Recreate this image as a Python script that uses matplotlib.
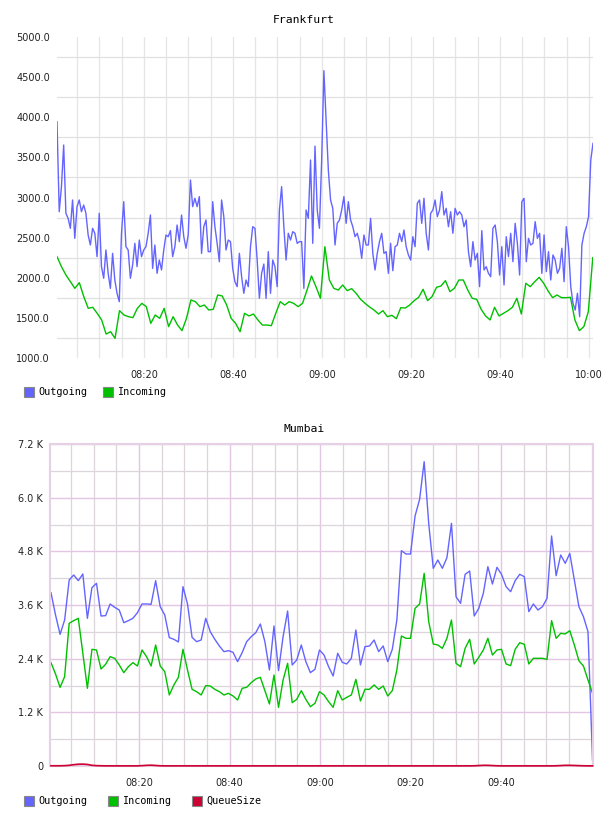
import matplotlib
matplotlib.use('Agg')
import matplotlib.pyplot as plt
import matplotlib.dates as mdates
from matplotlib.patches import Rectangle
import pandas as pd

# Frankfurt: outgoing every 30 s, incoming every minute
fra_out = [3945, 2823, 3135, 3654, 2803, 2740, 2616, 2969, 2491, 2886,
           2969, 2823, 2906, 2803, 2533, 2408, 2616, 2554, 2263, 2803,
           2138, 1993, 2346, 2055, 1868, 2304, 1972, 1806, 1702, 2554,
           2948, 2387, 2346, 1993, 2159, 2429, 2138, 2470, 2263, 2346,
           2387, 2554, 2782, 2117, 2408, 2055, 2221, 2097, 2346, 2533,
           2512, 2587, 2263, 2387, 2657, 2450, 2782, 2512, 2367, 2533,
           3218, 2886, 2990, 2886, 3011, 2304, 2636, 2720, 2325, 2325,
           2948, 2636, 2429, 2200, 2969, 2761, 2346, 2470, 2450, 2117,
           1951, 1889, 2304, 2014, 1806, 1972, 1889, 2387, 2636, 2616,
           2221, 1744, 2055, 2171, 1744, 2325, 1806, 2221, 2138, 1889,
           2844, 3135, 2636, 2221, 2554, 2470, 2574, 2554, 2429, 2450,
           2450, 1868, 2844, 2740, 3467, 2429, 3640, 2844, 2616, 3467,
           4580, 3966, 3342, 2969, 2865, 2408, 2678, 2720, 2844, 3011,
           2678, 2948, 2720, 2636, 2512, 2554, 2450, 2242, 2533, 2408,
           2408, 2740, 2304, 2097, 2304, 2450, 2554, 2304, 2325, 2055,
           2429, 2088, 2387, 2408, 2554, 2450, 2595, 2387, 2284, 2221,
           2512, 2387, 2927, 2969, 2678, 2990, 2554, 2346, 2803, 2844,
           2969, 2761, 2844, 3073, 2782, 2865, 2636, 2823, 2554, 2865,
           2782, 2823, 2782, 2636, 2720, 2325, 2138, 2450, 2221, 2304,
           1889, 2587, 2097, 2138, 2055, 2014, 2616, 2657, 2450, 2034,
           2387, 1910, 2512, 2263, 2554, 2200, 2678, 2429, 2034, 2948,
           2990, 2200, 2491, 2408, 2429, 2699, 2491, 2554, 2055, 2533,
           2076, 2325, 1972, 2284, 2221, 2055, 2117, 2367, 1951, 2636,
           2387, 1889, 1681, 1598, 1806, 1515, 2408, 2554, 2636, 2761,
           3467, 3675]

fra_in = [2263, 2138, 2034, 1951, 1868, 1939, 1764, 1619, 1632, 1557,
          1474, 1299, 1328, 1245, 1590, 1536, 1515, 1503, 1619, 1681,
          1640, 1432, 1536, 1494, 1619, 1391, 1515, 1411, 1341, 1494,
          1723, 1702, 1640, 1660, 1598, 1607, 1785, 1773, 1660, 1494,
          1432, 1328, 1557, 1524, 1548, 1474, 1411, 1411, 1403, 1557,
          1702, 1660, 1702, 1681, 1640, 1681, 1847, 2022, 1889, 1744,
          2387, 1972, 1868, 1847, 1910, 1839, 1864, 1806, 1731, 1681,
          1636, 1598, 1548, 1590, 1515, 1532, 1490, 1627, 1623, 1660,
          1715, 1756, 1856, 1715, 1765, 1881, 1897, 1964, 1827, 1868,
          1972, 1972, 1847, 1744, 1731, 1607, 1524, 1474, 1632, 1524,
          1557, 1590, 1632, 1744, 1548, 1931, 1889, 1951, 2005, 1931,
          1835, 1752, 1785, 1752, 1752, 1756, 1474, 1341, 1391, 1577,
          2250]

# Mumbai: one sample per minute
mum_out = [3876, 3377, 2944, 3265, 4159, 4271, 4144, 4293, 3302, 3988,
           4085, 3354, 3362, 3622, 3548, 3488, 3205, 3250, 3302, 3429,
           3623, 3623, 3615, 4144, 3563, 3377, 2870, 2833, 2773, 4010,
           3623, 2877, 2780, 2818, 3302, 3004, 2833, 2684, 2557, 2579,
           2542, 2333, 2534, 2780, 2892, 2982, 3175, 2780, 2147, 3131,
           2132, 2892, 3466, 2259, 2370, 2706, 2333, 2087, 2162, 2594,
           2482, 2221, 2013, 2520, 2318, 2281, 2408, 3041, 2259, 2669,
           2684, 2818, 2557, 2684, 2333, 2609, 3265, 4815, 4740, 4740,
           5590, 5963, 6805, 5426, 4420, 4606, 4420, 4658, 5426, 3786,
           3637, 4286, 4360, 3354, 3526, 3861, 4457, 4069, 4442, 4286,
           4010, 3898, 4144, 4286, 4234, 3451, 3623, 3488, 3563, 3749,
           5143, 4256, 4718, 4532, 4755, 4159, 3563, 3339, 3004, 135]

mum_in = [2311, 2057, 1758, 1998, 3190, 3250, 3302, 2520, 1737, 2609,
          2594, 2169, 2274, 2445, 2408, 2259, 2087, 2221, 2311, 2236,
          2594, 2445, 2236, 2706, 2236, 2110, 1588, 1812, 1983, 2609,
          2147, 1715, 1662, 1588, 1797, 1789, 1715, 1662, 1588, 1625,
          1566, 1476, 1737, 1759, 1864, 1946, 1983, 1685, 1387, 2035,
          1312, 1923, 2296, 1416, 1491, 1685, 1491, 1327, 1401, 1662,
          1588, 1439, 1312, 1685, 1476, 1536, 1588, 1938, 1454, 1715,
          1715, 1812, 1715, 1789, 1566, 1685, 2147, 2907, 2855, 2855,
          3526, 3623, 4308, 3228, 2728, 2706, 2631, 2855, 3265, 2296,
          2221, 2631, 2833, 2281, 2430, 2594, 2855, 2482, 2594, 2609,
          2281, 2244, 2609, 2758, 2721, 2281, 2408, 2408, 2408, 2385,
          3250, 2855, 2967, 2952, 3026, 2706, 2355, 2236, 1923, 1625]

mum_queue = [5, 5, 5, 8, 15, 30, 40, 42, 35, 15,
             8, 5, 3, 3, 3, 3, 3, 3, 3, 3,
             8, 15, 18, 12, 5, 3, 3, 3, 3, 3,
             3, 3, 3, 3, 3, 3, 3, 3, 3, 3,
             3, 3, 3, 3, 3, 3, 3, 3, 3, 3,
             3, 3, 3, 3, 3, 3, 3, 3, 3, 3,
             3, 3, 3, 3, 3, 3, 3, 3, 3, 3,
             3, 3, 3, 3, 3, 3, 3, 3, 3, 3,
             3, 3, 3, 3, 3, 3, 3, 3, 3, 3,
             3, 3, 3, 5, 10, 15, 15, 10, 5, 3,
             3, 3, 3, 3, 3, 3, 3, 3, 3, 3,
             3, 5, 10, 15, 15, 12, 8, 5, 3, 3]

day = '2024-01-01 '
fra_out_t = pd.date_range(day + '08:00:27', periods=len(fra_out), freq='30s').to_pydatetime()
fra_in_t = pd.date_range(day + '08:00:27', day + '10:00:54', periods=len(fra_in)).to_pydatetime()
mum_t = pd.date_range(day + '08:00:33', day + '10:00:12', periods=len(mum_out)).to_pydatetime()

BLUE = '#6464ff'
GREEN = '#00c000'
RED = '#cc0033'
W, H = 608, 816
MONO = 'DejaVu Sans Mono'

fig = plt.figure(figsize=(6.08, 8.16), dpi=100)
ax1 = fig.add_axes([57 / W, 1 - 358 / H, 536 / W, 321 / H])
ax2 = fig.add_axes([50 / W, 1 - 766 / H, 543 / W, 322 / H])

# --- Frankfurt
ax1.plot(fra_out_t, fra_out, color=BLUE, lw=1.0)
ax1.plot(fra_in_t, fra_in, color=GREEN, lw=1.0)
ax1.set_xlim(pd.Timestamp(day + '08:00:27'), pd.Timestamp(day + '10:00:57'))
ax1.set_ylim(1000, 5000)
ax1.set_yticks(range(1000, 5001, 500))
ax1.set_yticklabels(['%.1f' % v for v in range(1000, 5001, 500)])
ax1.set_yticks(range(1250, 5000, 500), minor=True)
ax1.xaxis.set_major_locator(mdates.MinuteLocator(byminute=[0, 20, 40]))
ax1.xaxis.set_minor_locator(mdates.MinuteLocator(byminute=range(0, 60, 5)))
ax1.xaxis.set_major_formatter(mdates.DateFormatter('%H:%M'))
ax1.grid(True, which='both', axis='x', color='#e6e6e6', lw=0.9)
ax1.grid(True, which='minor', axis='y', color='#e0e0e0', lw=0.9)
for s in ax1.spines.values():
    s.set_visible(False)

# --- Mumbai
ax2.plot(mum_t, mum_out, color=BLUE, lw=1.0)
ax2.plot(mum_t, mum_in, color=GREEN, lw=1.0)
ax2.plot(mum_t, mum_queue, color=RED, lw=1.2, clip_on=False, zorder=5)
ax2.set_xlim(pd.Timestamp(day + '08:00:20'), pd.Timestamp(day + '10:00:18'))
ax2.set_ylim(0, 7200)
ax2.set_yticks(range(0, 7201, 1200))
ax2.set_yticklabels(['0' if v == 0 else '%.1f K' % (v / 1000) for v in range(0, 7201, 1200)])
ax2.set_yticks(range(600, 7200, 1200), minor=True)
ax2.set_xticks([pd.Timestamp(day + h) for h in ['08:20', '08:40', '09:00', '09:20', '09:40']])
ax2.xaxis.set_minor_locator(mdates.MinuteLocator(byminute=range(0, 60, 5)))
ax2.xaxis.set_major_formatter(mdates.DateFormatter('%H:%M'))
ax2.grid(True, which='major', color='#e2c6e2', lw=1.0)
ax2.grid(True, which='minor', color='#dcd6dc', lw=0.9)
for s in ax2.spines.values():
    s.set_color('#e6d0e6')
    s.set_linewidth(1.5)

for ax in (ax1, ax2):
    ax.set_axisbelow(True)
    ax.tick_params(which='both', length=0, labelsize=7, labelcolor='#222222')
    ax.tick_params(axis='y', pad=5)
    ax.tick_params(axis='x', pad=9)

fig.text(0.5, 1 - 20 / H, 'Frankfurt', ha='center', va='center', family=MONO, size=8.2)
fig.text(0.5, 1 - 429 / H, 'Mumbai', ha='center', va='center', family=MONO, size=8.2)


def legend_item(x, y, color, label):
    fig.add_artist(Rectangle((x / W, 1 - (y + 5) / H), 10 / W, 10 / H,
                             transform=fig.transFigure, facecolor=color,
                             edgecolor='#888888', lw=0.8))
    fig.text((x + 14) / W, 1 - y / H, label, ha='left', va='center',
             family=MONO, size=7.3)


legend_item(24, 392, BLUE, 'Outgoing')
legend_item(103, 392, GREEN, 'Incoming')
legend_item(24, 801, BLUE, 'Outgoing')
legend_item(108, 801, GREEN, 'Incoming')
legend_item(192, 801, RED, 'QueueSize')

fig.savefig('out.png', dpi=100)
